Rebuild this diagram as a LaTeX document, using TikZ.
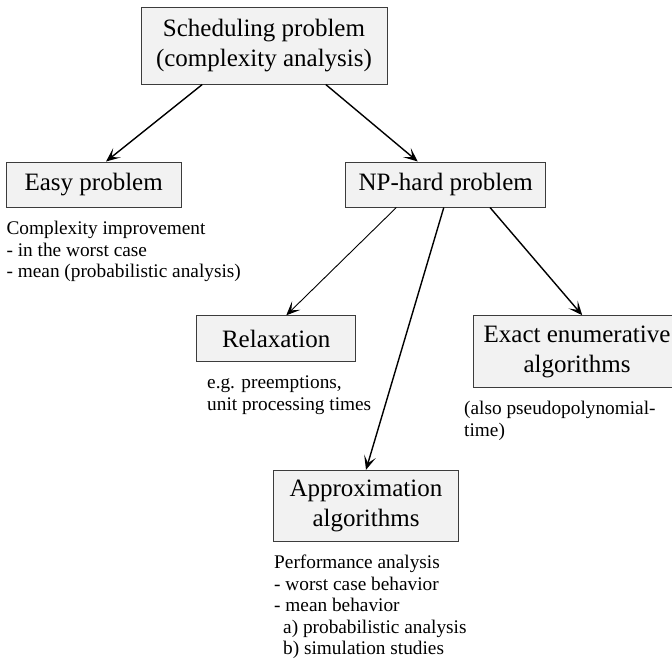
\documentclass[tikz,border=0pt]{standalone}
\usepackage{fontspec}
\setmainfont{Liberation Serif}
\usetikzlibrary{arrows.meta,calc}
\definecolor{boxfill}{RGB}{242,242,242}
\definecolor{boxline}{RGB}{60,60,60}
\tikzset{
  box/.style={draw=boxline,fill=boxfill,line width=1pt,align=center,inner sep=0pt,font=\fontsize{25}{30}\selectfont},
  note/.style={anchor=north west,align=left,inner sep=0pt,font=\fontsize{19.3}{21.5}\selectfont},
  arr/.style={-{Stealth[length=14pt,width=12pt,inset=7pt]},line width=1.4pt},
}

\begin{document}
\begin{tikzpicture}[x=1pt,y=-1pt]
\clip (0,0) rectangle (672,659);
% boxes
\node[box,minimum width=246pt,minimum height=77pt] (sched) at (264,45.5) {Scheduling problem\\(complexity analysis)};
\node[box,minimum width=175pt,minimum height=45pt] (easy) at (93.7,184.5) {Easy problem};
\node[box,minimum width=200pt,minimum height=45pt] (nphard) at (445.8,184.5) {NP-hard problem};
\node[box,minimum width=159pt,minimum height=46pt] (relax) at (276.2,338.8) {Relaxation};
\node[box,minimum width=207pt,minimum height=72pt] (exact) at (577,351.7) {Exact enumerative\\algorithms};
\node[box,minimum width=185pt,minimum height=71pt] (approx) at (366,505.8) {Approximation\\algorithms};

% notes
\node[note] (easynote) at (6.4,221) {Complexity improvement\\- in the worst case\\- mean (probabilistic analysis)};
\node[note] (relaxnote) at (207,376) {e.g. preemptions,\\unit processing times};
\node[note] (exactnote) at (464,401) {(also pseudopolynomial-\\time)};
\node[note] (approxnote) at (274,555) {Performance analysis\\- worst case behavior\\- mean behavior\\\hspace*{9pt}a) probabilistic analysis\\\hspace*{9pt}b) simulation studies};

% arrows
\draw[arr] ($(sched.south west)!.25!(sched.south east)$) -- ($(easy.north west)!.57!(easy.north east)$);
\draw[arr] ($(sched.south west)!.75!(sched.south east)$) -- ($(nphard.north west)!.36!(nphard.north east)$);
\draw[arr,line width=.9pt] ($(nphard.south west)!.254!(nphard.south east)$) -- ($(relax.north west)!.563!(relax.north east)$);
\draw[arr] ($(nphard.south west)!.49!(nphard.south east)$) -- (approx.north);
\draw[arr] ($(nphard.south west)!.72!(nphard.south east)$) -- ($(exact.north west)!.525!(exact.north east)$);
\end{tikzpicture}
\end{document}
